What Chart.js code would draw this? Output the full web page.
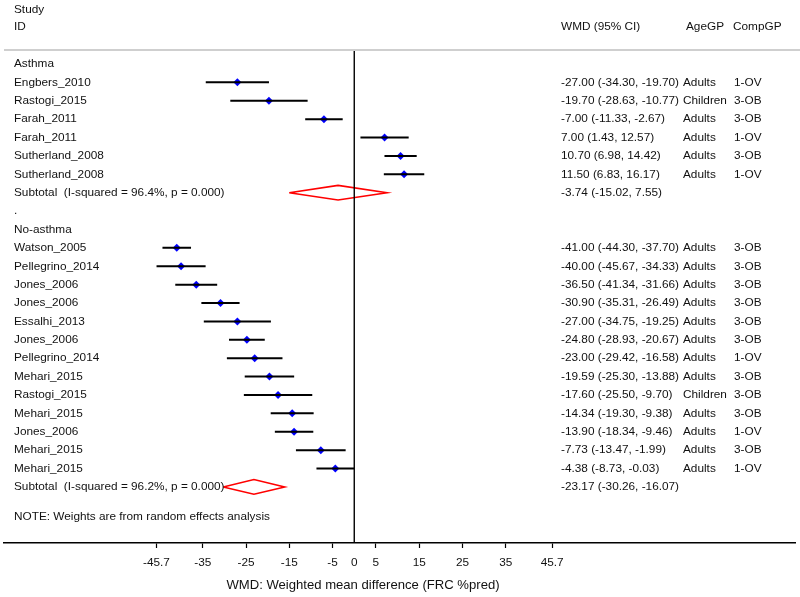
<!DOCTYPE html>
<html>
<head>
<meta charset="utf-8">
<title>Forest plot - WMD FRC %pred</title>
<script src="https://cdn.jsdelivr.net/npm/chart.js@4.4.1/dist/chart.umd.min.js"></script>
<style>
  body { margin: 0; background: #fff; }
  #wrap { width: 800px; height: 597px; }
</style>
</head>
<body>
<div id="wrap"><canvas id="forest" width="800" height="597"></canvas></div>
<script>
// Asthma studies
const asthmaStudies = ["Engbers_2010", "Rastogi_2015", "Farah_2011", "Farah_2011", "Sutherland_2008", "Sutherland_2008"];
const asthmaWmd = [-27.00, -19.70, -7.00, 7.00, 10.70, 11.50];
const asthmaLow = [-34.30, -28.63, -11.33, 1.43, 6.98, 6.83];
const asthmaHigh = [-19.70, -10.77, -2.67, 12.57, 14.42, 16.17];
const asthmaAge = ["Adults", "Children", "Adults", "Adults", "Adults", "Adults"];
const asthmaComp = ["1-OV", "3-OB", "3-OB", "1-OV", "3-OB", "1-OV"];

// No-asthma studies
const noAsthmaStudies = ["Watson_2005", "Pellegrino_2014", "Jones_2006", "Jones_2006", "Essalhi_2013", "Jones_2006",
  "Pellegrino_2014", "Mehari_2015", "Rastogi_2015", "Mehari_2015", "Jones_2006", "Mehari_2015", "Mehari_2015"];
const noAsthmaWmd = [-41.00, -40.00, -36.50, -30.90, -27.00, -24.80, -23.00, -19.59, -17.60, -14.34, -13.90, -7.73, -4.38];
const noAsthmaLow = [-44.30, -45.67, -41.34, -35.31, -34.75, -28.93, -29.42, -25.30, -25.50, -19.30, -18.34, -13.47, -8.73];
const noAsthmaHigh = [-37.70, -34.33, -31.66, -26.49, -19.25, -20.67, -16.58, -13.88, -9.70, -9.38, -9.46, -1.99, -0.03];
const noAsthmaAge = ["Adults", "Adults", "Adults", "Adults", "Adults", "Adults", "Adults", "Adults", "Children", "Adults", "Adults", "Adults", "Adults"];
const noAsthmaComp = ["3-OB", "3-OB", "3-OB", "3-OB", "3-OB", "3-OB", "1-OV", "3-OB", "3-OB", "3-OB", "1-OV", "3-OB", "1-OV"];

// subtotals (random effects)
const subtotalLabels = ["Subtotal  (I-squared = 96.4%, p = 0.000)", "Subtotal  (I-squared = 96.2%, p = 0.000)"];
const subtotalWmd = [-3.74, -23.17];
const subtotalLow = [-15.02, -30.26];
const subtotalHigh = [7.55, -16.07];

// x axis
const tickValues = [-45.7, -35, -25, -15, -5, 0, 5, 15, 25, 35, 45.7];
const tickLabels = ["-45.7", "-35", "-25", "-15", "-5", "0", "5", "15", "25", "35", "45.7"];
const axisTitle = "WMD: Weighted mean difference (FRC %pred)";
const noteText = "NOTE: Weights are from random effects analysis";

const FONT = "'Liberation Sans', Arial, Helvetica, sans-serif";
const fmt = v => v.toFixed(2);
const ciText = (e, l, h) => fmt(e) + " (" + fmt(l) + ", " + fmt(h) + ")";

// build the table rows (row index = y value)
const rows = [];
let r = 0;
rows.push({ y: r++, label: "Asthma" });
asthmaStudies.forEach((s, i) => {
  rows.push({ y: r++, label: s, est: asthmaWmd[i], lo: asthmaLow[i], hi: asthmaHigh[i],
    age: asthmaAge[i], comp: asthmaComp[i], kind: "study" });
});
rows.push({ y: r++, label: subtotalLabels[0], est: subtotalWmd[0], lo: subtotalLow[0], hi: subtotalHigh[0], kind: "sub" });
rows.push({ y: r++, label: "." });
rows.push({ y: r++, label: "No-asthma" });
noAsthmaStudies.forEach((s, i) => {
  rows.push({ y: r++, label: s, est: noAsthmaWmd[i], lo: noAsthmaLow[i], hi: noAsthmaHigh[i],
    age: noAsthmaAge[i], comp: noAsthmaComp[i], kind: "study" });
});
rows.push({ y: r++, label: subtotalLabels[1], est: subtotalWmd[1], lo: subtotalLow[1], hi: subtotalHigh[1], kind: "sub" });
rows.push({ y: r + 0.6, label: noteText });

const Y_MIN = -0.76, Y_MAX = 26.05;

const studyRows = rows.filter(o => o.kind === "study");
const subRows = rows.filter(o => o.kind === "sub");

// CI whiskers, broken by null points
const ciData = [];
studyRows.forEach(o => {
  ciData.push({ x: o.lo, y: o.y }, { x: o.hi, y: o.y }, { x: null, y: null });
});

// pooled diamonds
const diamondData = [];
subRows.forEach(o => {
  diamondData.push(
    { x: o.lo, y: o.y }, { x: o.est, y: o.y - 0.4 }, { x: o.hi, y: o.y },
    { x: o.est, y: o.y + 0.4 }, { x: o.lo, y: o.y }, { x: null, y: null });
});

const pointData = studyRows.map(o => ({ x: o.est, y: o.y }));

// text columns + header line + axis title
const tablePlugin = {
  id: "tableText",
  afterDraw(chart) {
    const ctx = chart.ctx;
    const ys = chart.scales.y;
    const area = chart.chartArea;
    ctx.save();

    ctx.strokeStyle = "#cfcfcf";
    ctx.lineWidth = 2;
    ctx.beginPath();
    ctx.moveTo(4, area.top);
    ctx.lineTo(800, area.top);
    ctx.stroke();

    ctx.fillStyle = "#111";
    ctx.font = "11.8px " + FONT;
    ctx.textBaseline = "middle";
    ctx.textAlign = "left";

    ctx.fillText("Study", 14, ys.getPixelForValue(-3) + 1);
    const hy = ys.getPixelForValue(-2);
    ctx.fillText("ID", 14, hy);
    ctx.fillText("WMD (95% CI)", 561, hy);
    ctx.fillText("AgeGP", 686, hy);
    ctx.fillText("CompGP", 733, hy);

    rows.forEach(o => {
      const py = ys.getPixelForValue(o.y);
      ctx.fillText(o.label, 14, py);
      if (o.kind) ctx.fillText(ciText(o.est, o.lo, o.hi), 561, py);
      if (o.age) ctx.fillText(o.age, 683, py);
      if (o.comp) ctx.fillText(o.comp, 734, py);
    });

    ctx.font = "13.1px " + FONT;
    ctx.textAlign = "center";
    ctx.fillText(axisTitle, 363, 585);
    ctx.restore();
  }
};

new Chart(document.getElementById("forest"), {
  type: "line",
  data: {
    datasets: [
      {
        label: "null", data: [{ x: 0, y: Y_MIN }, { x: 0, y: Y_MAX }],
        borderColor: "#000", borderWidth: 1.4, pointRadius: 0
      },
      {
        label: "CI", data: ciData, borderColor: "#000", borderWidth: 2,
        pointRadius: 0, spanGaps: false
      },
      {
        label: "Subtotal", data: diamondData, borderColor: "#ff0000", borderWidth: 1.6,
        pointRadius: 0, spanGaps: false, fill: false
      },
      {
        label: "WMD", data: pointData, showLine: false, pointStyle: "rectRot",
        pointRadius: 4, backgroundColor: "#0000ff", borderColor: "#0000ff", borderWidth: 0
      }
    ]
  },
  options: {
    responsive: false,
    animation: false,
    devicePixelRatio: 1,
    layout: { padding: { left: 4, right: 5, top: 50, bottom: 0 } },
    plugins: { legend: { display: false }, tooltip: { enabled: false } },
    scales: {
      x: {
        type: "linear",
        min: -80.9,
        max: 101.8,
        afterBuildTicks: s => { s.ticks = tickValues.map(v => ({ value: v })); },
        afterFit: s => { s.height = 54; },
        ticks: {
          autoSkip: false, maxRotation: 0, padding: 8, color: "#111",
          font: { family: FONT, size: 11.8 },
          callback: (v, i) => tickLabels[i]
        },
        grid: {
          drawOnChartArea: false, drawTicks: true, tickLength: 5, tickWidth: 1.2,
          tickColor: c => (c.tick && c.tick.value === 0 ? "rgba(0,0,0,0)" : "#000")
        },
        border: { display: true, color: "#000", width: 1.5 }
      },
      y: {
        type: "linear", reverse: true, min: Y_MIN, max: Y_MAX, display: false
      }
    }
  },
  plugins: [tablePlugin]
});
</script>
</body>
</html>
